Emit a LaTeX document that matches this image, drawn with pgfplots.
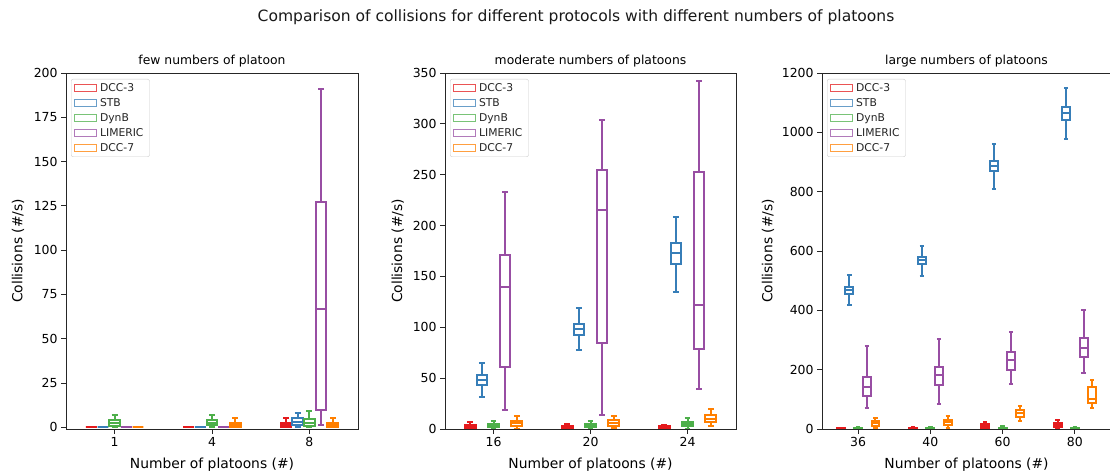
\documentclass[border=0pt]{standalone}
\usepackage{fontspec}
\setmainfont{DejaVu Sans}
\usepackage{pgfplots}
\pgfplotsset{compat=1.18}
\usepgfplotslibrary{statistics}

\definecolor{cRed}{HTML}{E41A1C}
\definecolor{cBlue}{HTML}{377EB8}
\definecolor{cGreen}{HTML}{4DAF4A}
\definecolor{cPurple}{HTML}{984EA3}
\definecolor{cOrange}{HTML}{FF7F00}

\pgfplotsset{
  panel/.style={
    scale only axis, anchor=south west, height=356bp,
    axis line style={black!85, line width=0.8bp},
    tick pos=left, tick align=outside, major tick length=4.9bp,
    every tick/.style={black!85, line width=0.8bp},
    ticklabel style={font=\fontsize{12.5}{14}\selectfont},
    /pgf/number format/assume math mode=true,
    /pgf/number format/1000 sep={},
    scaled y ticks=false,
    label style={font=\fontsize{13.9}{16}\selectfont},
    title style={font=\fontsize{12.4}{14}\selectfont, anchor=base, yshift=3bp},
    xlabel={Number of platoons (\#)},
    ylabel={Collisions (\#/s)},
    xlabel style={at={(axis description cs:0.5,0)}, anchor=center, yshift=-36bp},
    legend cell align=left,
    legend style={at={(0,1)}, anchor=north west, xshift=5bp, yshift=-6bp,
      draw=black!20, fill=white, rounded corners=2bp, text=black!85,
      font=\fontsize{10.8}{12}\selectfont, row sep=1.6bp,
      nodes={inner xsep=3bp}},
    legend image code/.code={\draw[##1, sharp corners, line width=0.9bp, opacity=0.75] (0bp,-3.2bp) rectangle (22bp,3.2bp);},
  },
}

% one prepared vertical box: colour, position, lower whisker, Q1, median, Q3, upper whisker
\newcommand\bx[7]{%
  \addplot[forget plot, draw=#1, line width=2bp, boxplot/draw direction=y,
    boxplot/every box/.style={line width=2bp},
    boxplot/every whisker/.style={line width=2bp},
    boxplot/every median/.style={line width=2bp},
    boxplot prepared={draw position=#2, lower whisker=#3, lower quartile=#4,
      median=#5, upper quartile=#6, upper whisker=#7,
      box extend=0.11, whisker extend=0.06}] coordinates {};}

\newcommand\legendimages{%
  \addlegendimage{draw=cRed}
  \addlegendimage{draw=cBlue}
  \addlegendimage{draw=cGreen}
  \addlegendimage{draw=cPurple}
  \addlegendimage{draw=cOrange}}

\begin{document}
\begin{tikzpicture}
\useasboundingbox (0,0) rectangle (1110bp,473bp);

\node[anchor=base, font=\fontsize{15.6}{18}\selectfont, text=black!90] at (576bp,451bp)
  {Comparison of collisions for different protocols with different numbers of platoons};

% ---------- few platoons ----------
\begin{axis}[panel, at={(66bp,44bp)}, width=292bp,
  title={few numbers of platoon},
  ylabel style={at={(axis description cs:-0.164,0.5)}, anchor=center},
  xmin=-0.5, xmax=2.5, xtick={0,1,2}, xticklabels={1,4,8},
  ymin=-1, ymax=200, ytick={0,25,...,200}]
\legendimages
\legend{DCC-3,STB,DynB,LIMERIC,DCC-7}
% platoons = 1
\bx{cRed}{-0.24}{0}{0}{0}{0}{0}
\bx{cBlue}{-0.12}{0}{0}{0}{0}{0}
\bx{cGreen}{0}{0}{0.5}{2.5}{4}{7}
\bx{cPurple}{0.12}{0}{0}{0}{0}{0}
\bx{cOrange}{0.24}{0}{0}{0}{0}{0}
% platoons = 4
\bx{cRed}{0.76}{0}{0}{0}{0}{0}
\bx{cBlue}{0.88}{0}{0}{0}{0}{0}
\bx{cGreen}{1}{0}{1}{2.5}{4}{7}
\bx{cPurple}{1.12}{0}{0}{0}{0}{0}
\bx{cOrange}{1.24}{0}{0}{1}{2.5}{5}
% platoons = 8
\bx{cRed}{1.76}{0}{0}{1}{2.5}{5}
\bx{cBlue}{1.88}{0}{1}{3}{5}{8}
\bx{cGreen}{2}{0}{0.5}{2.5}{4.5}{9}
\bx{cPurple}{2.12}{1}{10}{67}{127}{191}
\bx{cOrange}{2.24}{0}{0}{1}{2.5}{5}
\end{axis}

% ---------- moderate platoons ----------
\begin{axis}[panel, at={(445bp,44bp)}, width=291bp,
  title={moderate numbers of platoons},
  ylabel style={at={(axis description cs:-0.162,0.5)}, anchor=center},
  xmin=-0.5, xmax=2.5, xtick={0,1,2}, xticklabels={16,20,24},
  ymin=0, ymax=350, ytick={0,50,...,350}]
\legendimages
\legend{DCC-3,STB,DynB,LIMERIC,DCC-7}
% platoons = 16
\bx{cRed}{-0.24}{0}{0}{1.5}{3.6}{7.2}
\bx{cBlue}{-0.12}{31.4}{43.5}{48.4}{52.6}{64.7}
\bx{cGreen}{0}{0}{1.6}{3.6}{5.2}{8.2}
\bx{cPurple}{0.12}{18.3}{61.1}{139.2}{170.6}{232.7}
\bx{cOrange}{0.24}{0}{2.6}{5.6}{8.2}{13}
% platoons = 20
\bx{cRed}{0.76}{0}{0}{1}{2.6}{5.2}
\bx{cBlue}{0.88}{77.8}{92.5}{98}{103.3}{118.6}
\bx{cGreen}{1}{0}{2}{3.6}{4.9}{8.2}
\bx{cPurple}{1.12}{14}{85}{215}{255}{304}
\bx{cOrange}{1.24}{0.5}{2.6}{6.2}{8.5}{13}
% platoons = 24
\bx{cRed}{1.76}{0}{0.5}{1.5}{2.5}{3.5}
\bx{cBlue}{1.88}{135}{162.4}{173.2}{183}{208.5}
\bx{cGreen}{2}{0}{2.6}{4.9}{6.9}{10.8}
\bx{cPurple}{2.12}{39.5}{79}{121.6}{253}{342.5}
\bx{cOrange}{2.24}{2.6}{6.5}{10.1}{13.4}{19.3}
\end{axis}

% ---------- large platoons ----------
\begin{axis}[panel, at={(822bp,44bp)}, width=289bp,
  title={large numbers of platoons},
  ylabel style={at={(axis description cs:-0.187,0.5)}, anchor=center},
  xmin=-0.5, xmax=3.5, xtick={0,1,2,3}, xticklabels={36,40,60,80},
  ymin=0, ymax=1200, ytick={0,200,...,1200}]
\legendimages
\legend{DCC-3,STB,DynB,LIMERIC,DCC-7}
% platoons = 36
\bx{cRed}{-0.24}{0}{0}{1}{3}{5}
\bx{cBlue}{-0.12}{418.4}{456.6}{469}{480.2}{519.6}
\bx{cGreen}{0}{0}{0}{2}{4}{6}
\bx{cPurple}{0.12}{69.7}{111.3}{142.8}{176.6}{280}
\bx{cOrange}{0.24}{5}{11}{20}{28}{38}
% platoons = 40
\bx{cRed}{0.76}{0}{1}{3}{5}{8}
\bx{cBlue}{0.88}{517.3}{555.6}{568}{579.2}{617.4}
\bx{cGreen}{1}{0}{0}{2}{4}{6}
\bx{cPurple}{1.12}{83.2}{148.4}{182.2}{210.3}{302.5}
\bx{cOrange}{1.24}{4.5}{13.5}{22.5}{30.4}{45}
% platoons = 60
\bx{cRed}{1.76}{0}{4.5}{11.2}{15.7}{24.7}
\bx{cBlue}{1.88}{809.7}{868.2}{887.3}{904.2}{960.4}
\bx{cGreen}{2}{0}{1}{3}{5}{9}
\bx{cPurple}{2.12}{150.7}{199}{232.8}{259.8}{326.1}
\bx{cOrange}{2.24}{27}{41.6}{52.9}{64.1}{78.7}
% platoons = 80
\bx{cRed}{2.76}{0}{5.6}{14.6}{21.4}{30.4}
\bx{cBlue}{2.88}{977.3}{1042.5}{1065}{1085.2}{1149.3}
\bx{cGreen}{3}{0}{1}{2}{4}{6}
\bx{cPurple}{3.12}{190}{244}{274.4}{305.9}{401.5}
\bx{cOrange}{3.24}{71.9}{88.7}{100}{140}{165}
\end{axis}
\end{tikzpicture}
\end{document}
